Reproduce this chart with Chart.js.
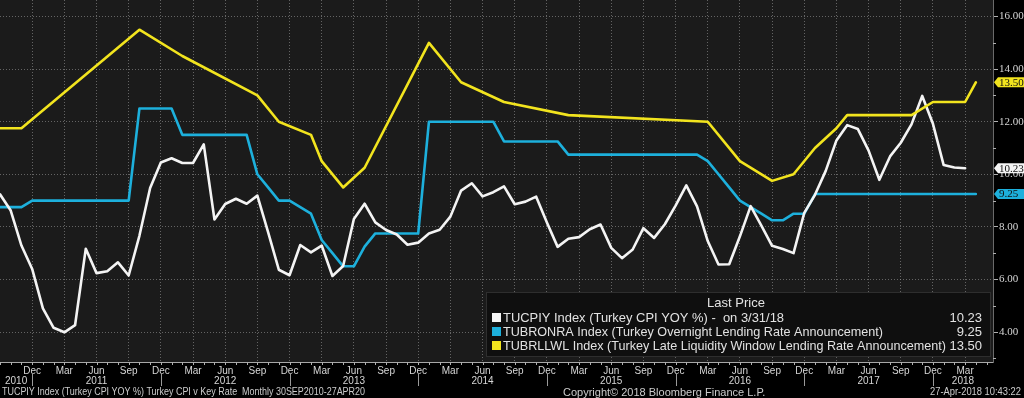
<!DOCTYPE html>
<html>
<head>
<meta charset="utf-8">
<script src="https://cdn.jsdelivr.net/npm/chart.js@4.4.0/dist/chart.umd.min.js"></script>
<style>
html, body { margin:0; padding:0; background:#000; }
#wrap { width:1024px; height:398px; }
</style>
</head>
<body>
<div id="wrap"><canvas id="myChart" width="1024" height="398"></canvas></div>
<script>
// month index 0 = Sep 2010, monthly points
var month_names = ["Sep","Oct","Nov","Dec","Jan","Feb","Mar","Apr","May","Jun","Jul","Aug"];
var first_year = 2010;

var cpi_history = [
  9.24, 8.62, 7.29, 6.40,
  4.90, 4.16, 3.99, 4.26, 7.17, 6.24, 6.31, 6.65, 6.15, 7.66, 9.48, 10.45,
  10.61, 10.43, 10.43, 11.14, 8.28, 8.87, 9.07, 8.88, 9.19, 7.80, 6.37, 6.16,
  7.31, 7.03, 7.29, 6.13, 6.51, 8.30, 8.88, 8.17, 7.88, 7.71, 7.32, 7.40,
  7.75, 7.89, 8.39, 9.38, 9.66, 9.16, 9.32, 9.54, 8.86, 8.96, 9.15, 8.17,
  7.24, 7.55, 7.61, 7.91, 8.09, 7.20, 6.81, 7.14, 7.95, 7.58, 8.10, 8.81,
  9.58, 8.78, 7.46, 6.57, 6.58, 7.64, 8.79, 8.05, 7.28, 7.16, 7.00, 8.53,
  9.22, 10.13, 11.29, 11.87, 11.72, 10.90, 9.79, 10.68, 11.20, 11.90, 12.98, 11.92,
  10.35, 10.26, 10.23
];

var onr_history = [
  8.75, 8.75, 8.75, 9.00,
  9.00, 9.00, 9.00, 9.00, 9.00, 9.00, 9.00, 9.00, 9.00, 12.50, 12.50, 12.50,
  12.50, 11.50, 11.50, 11.50, 11.50, 11.50, 11.50, 11.50, 10.00, 9.50, 9.00, 9.00,
  8.75, 8.50, 7.50, 7.00, 6.50, 6.50, 7.25, 7.75, 7.75, 7.75, 7.75, 7.75,
  12.00, 12.00, 12.00, 12.00, 12.00, 12.00, 12.00, 11.25, 11.25, 11.25, 11.25, 11.25,
  11.25, 10.75, 10.75, 10.75, 10.75, 10.75, 10.75, 10.75, 10.75, 10.75, 10.75, 10.75,
  10.75, 10.75, 10.50, 10.00, 9.50, 9.00, 8.75, 8.50, 8.25, 8.25, 8.50, 8.50,
  9.25, 9.25, 9.25, 9.25, 9.25, 9.25, 9.25, 9.25, 9.25, 9.25, 9.25, 9.25,
  9.25, 9.25, 9.25, 9.25
];

// announcement series, only months with a print
var llw_history = [
  11.75, 11.75, 11.75, null,
  null, null, null, null, null, null, null, null, null, 15.50, null, null,
  null, 14.50, null, null, null, null, null, null, 13.00, null, 12.00, null,
  null, 11.50, 10.50, null, 9.50, null, 10.25, null, null, null, null, null,
  15.00, null, null, 13.50, null, null, null, 12.75, null, null, null, null,
  null, 12.25, null, null, null, null, null, null, null, null, null, null,
  null, null, 12.00, null, null, 10.50, null, null, 9.75, null, 10.00, null,
  11.00, null, 11.75, 12.25, null, null, null, null, null, 12.25, null, 12.75,
  null, null, 12.75, 13.50
];

var y_ticks = [4, 6, 8, 10, 12, 14, 16];
var y_minor = [3, 5, 7, 9, 11, 13, 15];

var series_names = [
  "TUCPIY Index (Turkey CPI YOY %) -  on 3/31/18",
  "TUBRONRA Index (Turkey Overnight Lending Rate Announcement)",
  "TUBRLLWL Index (Turkey Late Liquidity Window Lending Rate Announcement)"
];
var series_colors = ["#f4f4f4", "#1db0dc", "#f2e41e"];

var footer_left = "TUCPIY Index (Turkey CPI YOY %) Turkey CPI v Key Rate  Monthly 30SEP2010-27APR20";
var footer_mid = "Copyright\u00a9 2018 Bloomberg Finance L.P.";
var footer_right = "27-Apr-2018 10:43:22";

function to_points(arr){
  var pts = [];
  for(var i = 0; i < arr.length; i++){
    pts.push({x: i, y: arr[i]});
  }
  return pts;
}

function last_value(arr){
  for(var i = arr.length - 1; i >= 0; i--){
    if(arr[i] != null) return arr[i];
  }
  return null;
}

function fit_text(ctx, text, x, y, max_w, align){
  var w = ctx.measureText(text).width;
  var s = w > max_w ? max_w / w : 1;
  ctx.save();
  ctx.translate(x, y);
  ctx.scale(s, 1);
  ctx.textAlign = align;
  ctx.fillText(text, 0, 0);
  ctx.restore();
}

function no_padding(scale){
  scale.paddingTop = 0;
  scale.paddingBottom = 0;
  scale.paddingLeft = 0;
  scale.paddingRight = 0;
}

var bloombergPlugin = {
  id: "bloomberg",
  beforeDraw: function(chart){
    var ctx = chart.ctx, a = chart.chartArea;
    ctx.save();
    ctx.fillStyle = "#000";
    ctx.fillRect(0, 0, chart.width, chart.height);
    ctx.fillStyle = "#1b1b1b";
    ctx.fillRect(a.left, a.top, a.right - a.left, a.bottom - a.top);
    ctx.restore();
  },
  afterDraw: function(chart){
    var ctx = chart.ctx, a = chart.chartArea;
    var xs = chart.scales.x, ys = chart.scales.y;
    ctx.save();

    // monthly minor ticks on the time axis
    ctx.strokeStyle = "#b0b0b0";
    ctx.lineWidth = 1;
    ctx.beginPath();
    for(var m = 0; m <= xs.max; m++){
      var px = Math.round(xs.getPixelForValue(m)) + 0.5;
      ctx.moveTo(px, a.bottom);
      ctx.lineTo(px, a.bottom + 3);
    }
    ctx.stroke();

    // minor ticks on the value axis
    ctx.beginPath();
    for(var k = 0; k < y_minor.length; k++){
      var py = Math.round(ys.getPixelForValue(y_minor[k])) + 0.5;
      ctx.moveTo(a.right, py);
      ctx.lineTo(a.right + 3, py);
    }
    ctx.stroke();

    // year row: separators at Dec, labels centred between them
    var bounds = [xs.min];
    for(var i = 0; i <= xs.max; i++){
      if(month_names[i % 12] == "Dec") bounds.push(i);
    }
    bounds.push(xs.max);
    ctx.fillStyle = "#d6d6d6";
    ctx.font = "10px 'Liberation Sans'";
    ctx.textBaseline = "middle";
    ctx.textAlign = "center";
    ctx.strokeStyle = "#9a9a9a";
    for(var b = 0; b < bounds.length - 1; b++){
      var mid = (bounds[b] + bounds[b + 1]) / 2;
      ctx.fillText(String(first_year + b), xs.getPixelForValue(mid), 381);
      if(b > 0){
        var sx = Math.round(xs.getPixelForValue(bounds[b])) + 0.5;
        ctx.beginPath();
        ctx.moveTo(sx, 374);
        ctx.lineTo(sx, 386);
        ctx.stroke();
      }
    }

    // footer
    ctx.fillStyle = "#cccccc";
    ctx.font = "10px 'Liberation Sans'";
    fit_text(ctx, footer_left, 2, 392.5, 363, "left");
    ctx.font = "11px 'Liberation Sans'";
    fit_text(ctx, footer_mid, 563, 392.5, 227, "left");
    ctx.font = "10px 'Liberation Sans'";
    fit_text(ctx, footer_right, 1021, 392.5, 91, "right");

    // legend box
    var lx = 486, ly = 292, lw = 505, lh = 65;
    ctx.fillStyle = "#0f0f0f";
    ctx.fillRect(lx, ly, lw, lh);
    ctx.strokeStyle = "#2e2e2e";
    ctx.strokeRect(lx + 0.5, ly + 0.5, lw - 1, lh - 1);
    ctx.fillStyle = "#e2e2e2";
    ctx.font = "13px 'Liberation Sans'";
    ctx.textAlign = "center";
    ctx.fillText("Last Price", 736, 303);
    var rows_w = [281, 380, 443];
    for(var r = 0; r < chart.data.datasets.length; r++){
      var ds = chart.data.datasets[r];
      var ry = 318 + r * 14;
      ctx.fillStyle = ds.borderColor;
      ctx.fillRect(492, ry - 5, 9, 9);
      ctx.fillStyle = "#e2e2e2";
      fit_text(ctx, ds.label, 503, ry, rows_w[r], "left");
      fit_text(ctx, ds.last.toFixed(2), 982, ry, 34, "right");
    }

    // last value tags on the right axis
    ctx.font = "11px 'Liberation Serif'";
    for(var t = 0; t < chart.data.datasets.length; t++){
      var d = chart.data.datasets[t];
      var ty = ys.getPixelForValue(d.last);
      ctx.fillStyle = d.borderColor;
      ctx.beginPath();
      ctx.moveTo(a.right + 1, ty);
      ctx.lineTo(a.right + 5, ty - 5);
      ctx.lineTo(1024, ty - 5);
      ctx.lineTo(1024, ty + 5);
      ctx.lineTo(a.right + 5, ty + 5);
      ctx.closePath();
      ctx.fill();
      ctx.fillStyle = "#111";
      ctx.textAlign = "left";
      ctx.fillText(d.last.toFixed(2), a.right + 6, ty + 0.5);
    }
    ctx.restore();
  }
};

function init(){
  var ctx_chart = document.getElementById("myChart").getContext("2d");
  var grid_color = "rgba(150,150,150,0.6)";

  var data_chart = {
    datasets: [
      {
        label: series_names[0],
        data: to_points(cpi_history),
        borderColor: series_colors[0],
        borderWidth: 2.6,
        order: 1,
        last: last_value(cpi_history)
      },
      {
        label: series_names[1],
        data: to_points(onr_history),
        borderColor: series_colors[1],
        borderWidth: 2.6,
        order: 2,
        last: last_value(onr_history)
      },
      {
        label: series_names[2],
        data: to_points(llw_history),
        borderColor: series_colors[2],
        borderWidth: 2.6,
        spanGaps: true,
        order: 0,
        last: last_value(llw_history)
      }
    ]
  };

  new Chart(ctx_chart, {
    type: "line",
    data: data_chart,
    options: {
      responsive: false,
      animation: false,
      devicePixelRatio: 1,
      layout: { padding: 0 },
      elements: {
        point: { radius: 0 },
        line: { tension: 0, borderJoinStyle: "round", borderCapStyle: "round" }
      },
      plugins: {
        legend: { display: false },
        tooltip: { enabled: false },
        title: { display: false }
      },
      scales: {
        x: {
          type: "linear",
          min: 0,
          max: 92.6,
          afterBuildTicks: function(scale){
            var t = [];
            for(var i = 3; i <= scale.max; i += 3) t.push({value: i});
            scale.ticks = t;
          },
          afterFit: function(scale){ scale.height = 36; no_padding(scale); },
          ticks: {
            autoSkip: false,
            maxRotation: 0,
            padding: 3,
            color: "#d6d6d6",
            font: { family: "'Liberation Sans'", size: 10 },
            callback: function(value){ return month_names[value % 12]; }
          },
          grid: { color: grid_color, drawTicks: false, lineWidth: 1 },
          border: { display: true, color: "#a8a8a8", width: 1, dash: [1, 2] }
        },
        y: {
          type: "linear",
          position: "right",
          min: 2.86,
          max: 16.63,
          afterBuildTicks: function(scale){
            scale.ticks = y_ticks.map(function(v){ return {value: v}; });
          },
          afterFit: function(scale){ scale.width = 31; no_padding(scale); },
          ticks: {
            padding: 1,
            color: "#d6d6d6",
            font: { family: "'Liberation Serif'", size: 11 },
            callback: function(value){ return value.toFixed(2); }
          },
          grid: { color: grid_color, tickLength: 5, tickColor: "#b0b0b0", tickBorderDash: [], lineWidth: 1 },
          border: { display: true, color: "#6a6a6a", width: 1, dash: [1, 2] }
        }
      }
    },
    plugins: [bloombergPlugin]
  });
}

init();
</script>
</body>
</html>
